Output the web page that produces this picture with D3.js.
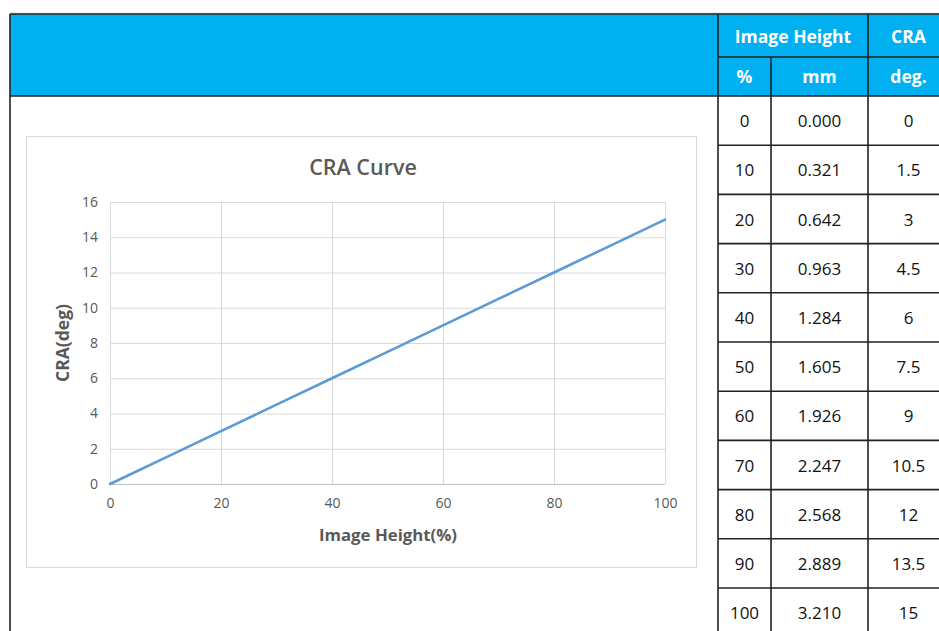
<!DOCTYPE html>
<html>
<head>
<meta charset="utf-8">
<script src="https://cdn.jsdelivr.net/npm/d3@7"></script>
<style>
  body { margin: 0; background: #fff; }
  svg { display: block; font-family: "Open Sans", "Noto Sans", sans-serif; }
</style>
</head>
<body>
<script>
// table / chart data
var heightPct = [0, 10, 20, 30, 40, 50, 60, 70, 80, 90, 100];
var heightMm = ["0.000", "0.321", "0.642", "0.963", "1.284", "1.605", "1.926", "2.247", "2.568", "2.889", "3.210"];
var craDeg = [0, 1.5, 3, 4.5, 6, 7.5, 9, 10.5, 12, 13.5, 15];
var xTicks = [0, 20, 40, 60, 80, 100];
var yTicks = [0, 2, 4, 6, 8, 10, 12, 14, 16];

var W = 939, H = 631;
var svg = d3.select("body").append("svg").attr("width", W).attr("height", H);

/*--- table frame ---*/
var tblTop = 14, headMid = 57, headBot = 96, rowH = 49.2;
var colX = [718, 771, 868, 955];
var blue = "#00b0f0";

// faint shadow above the top border
svg.append("line").attr("x1", 10).attr("x2", W).attr("y1", tblTop - 1).attr("y2", tblTop - 1)
  .attr("stroke", "#d9d9d9").attr("stroke-width", 1);

svg.append("rect").attr("x", 10).attr("y", tblTop).attr("width", W).attr("height", headBot - tblTop)
  .attr("fill", blue);

var grid = svg.append("g").attr("stroke", "#222").attr("stroke-width", 1.6);
grid.append("line").attr("x1", 10).attr("x2", W).attr("y1", tblTop).attr("y2", tblTop);
grid.append("line").attr("x1", 10).attr("x2", W).attr("y1", headBot).attr("y2", headBot);
grid.append("line").attr("x1", 10).attr("x2", 10).attr("y1", tblTop).attr("y2", H);
grid.append("line").attr("x1", colX[0]).attr("x2", W).attr("y1", headMid).attr("y2", headMid);
grid.append("line").attr("x1", colX[0]).attr("x2", colX[0]).attr("y1", tblTop).attr("y2", H);
grid.append("line").attr("x1", colX[1]).attr("x2", colX[1]).attr("y1", headMid).attr("y2", H);
grid.append("line").attr("x1", colX[2]).attr("x2", colX[2]).attr("y1", tblTop).attr("y2", H);

var rowY = function (i) { return headBot + i * rowH; };
heightPct.forEach(function (d, i) {
  if (i > 0) {
    grid.append("line").attr("x1", colX[0]).attr("x2", W)
      .attr("y1", rowY(i)).attr("y2", rowY(i));
  }
});

// header text
var head = svg.append("g").attr("fill", "#fff").attr("font-weight", 700)
  .attr("font-size", 17.5).attr("text-anchor", "middle").attr("dominant-baseline", "central");
head.append("text").attr("x", (colX[0] + colX[2]) / 2).attr("y", 36).text("Image Height");
head.append("text").attr("x", (colX[2] + colX[3]) / 2 - 3).attr("y", 36).text("CRA");
head.append("text").attr("x", (colX[0] + colX[1]) / 2).attr("y", 76).text("%");
head.append("text").attr("x", (colX[1] + colX[2]) / 2).attr("y", 76).text("mm");
head.append("text").attr("x", (colX[2] + colX[3]) / 2 - 3).attr("y", 76).text("deg.");

// body cells
var body = svg.append("g").attr("fill", "#111").attr("font-size", 17)
  .attr("text-anchor", "middle").attr("dominant-baseline", "central");
heightPct.forEach(function (d, i) {
  var cy = rowY(i) + rowH / 2;
  body.append("text").attr("x", (colX[0] + colX[1]) / 2).attr("y", cy).text(d);
  body.append("text").attr("x", (colX[1] + colX[2]) / 2).attr("y", cy).text(heightMm[i]);
  body.append("text").attr("x", (colX[2] + colX[3]) / 2 - 3).attr("y", cy).text(craDeg[i]);
});

/*--- chart ---*/
svg.append("rect").attr("x", 26.5).attr("y", 136.5).attr("width", 670).attr("height", 431)
  .attr("fill", "#fff").attr("stroke", "#d9d9d9").attr("stroke-width", 1);

var x = d3.scaleLinear().domain([0, 100]).range([110, 665]);
var y = d3.scaleLinear().domain([0, 16]).range([484, 202]);
var txt = "#595959";

// gridlines
svg.append("g").selectAll("line").data(yTicks).join("line")
  .attr("x1", x(0)).attr("x2", x(100))
  .attr("y1", function (d) { return y(d) + 0.5; }).attr("y2", function (d) { return y(d) + 0.5; })
  .attr("stroke", function (d) { return d === 0 ? "#bfbfbf" : "#d9d9d9"; }).attr("stroke-width", 1);
svg.append("g").selectAll("line").data(xTicks).join("line")
  .attr("x1", function (d) { return x(d) + 0.5; }).attr("x2", function (d) { return x(d) + 0.5; })
  .attr("y1", y(16)).attr("y2", y(0))
  .attr("stroke", "#d9d9d9").attr("stroke-width", 1);

// axes (labels only, lines drawn as grid)
var xAxis = svg.append("g").attr("transform", "translate(0," + y(0) + ")")
  .call(d3.axisBottom(x).tickValues(xTicks).tickSize(0).tickPadding(14));
var yAxis = svg.append("g").attr("transform", "translate(" + x(0) + ",0)")
  .call(d3.axisLeft(y).tickValues(yTicks).tickSize(0).tickPadding(12));
[xAxis, yAxis].forEach(function (a) {
  a.select(".domain").remove();
  a.selectAll("text").attr("fill", txt).attr("font-size", 14)
    .attr("font-family", "'Open Sans', sans-serif");
});

// series line
var line = d3.line()
  .x(function (d, i) { return x(heightPct[i]); })
  .y(function (d) { return y(d); });
svg.append("path").datum(craDeg).attr("d", line)
  .attr("fill", "none").attr("stroke", "#5b9bd5").attr("stroke-width", 2.6)
  .attr("stroke-linecap", "round");

// titles
svg.append("text").attr("x", 363).attr("y", 166).attr("text-anchor", "middle")
  .attr("dominant-baseline", "central").attr("fill", txt)
  .attr("font-size", 21.5).attr("font-weight", 600).text("CRA Curve");
svg.append("text").attr("x", 388).attr("y", 534).attr("text-anchor", "middle")
  .attr("dominant-baseline", "central").attr("fill", txt)
  .attr("font-size", 16.8).attr("font-weight", 700).text("Image Height(%)");
svg.append("text").attr("transform", "translate(62,343) rotate(-90)").attr("text-anchor", "middle")
  .attr("dominant-baseline", "central").attr("fill", txt)
  .attr("font-size", 17.5).attr("font-weight", 700).text("CRA(deg)");
</script>
</body>
</html>
